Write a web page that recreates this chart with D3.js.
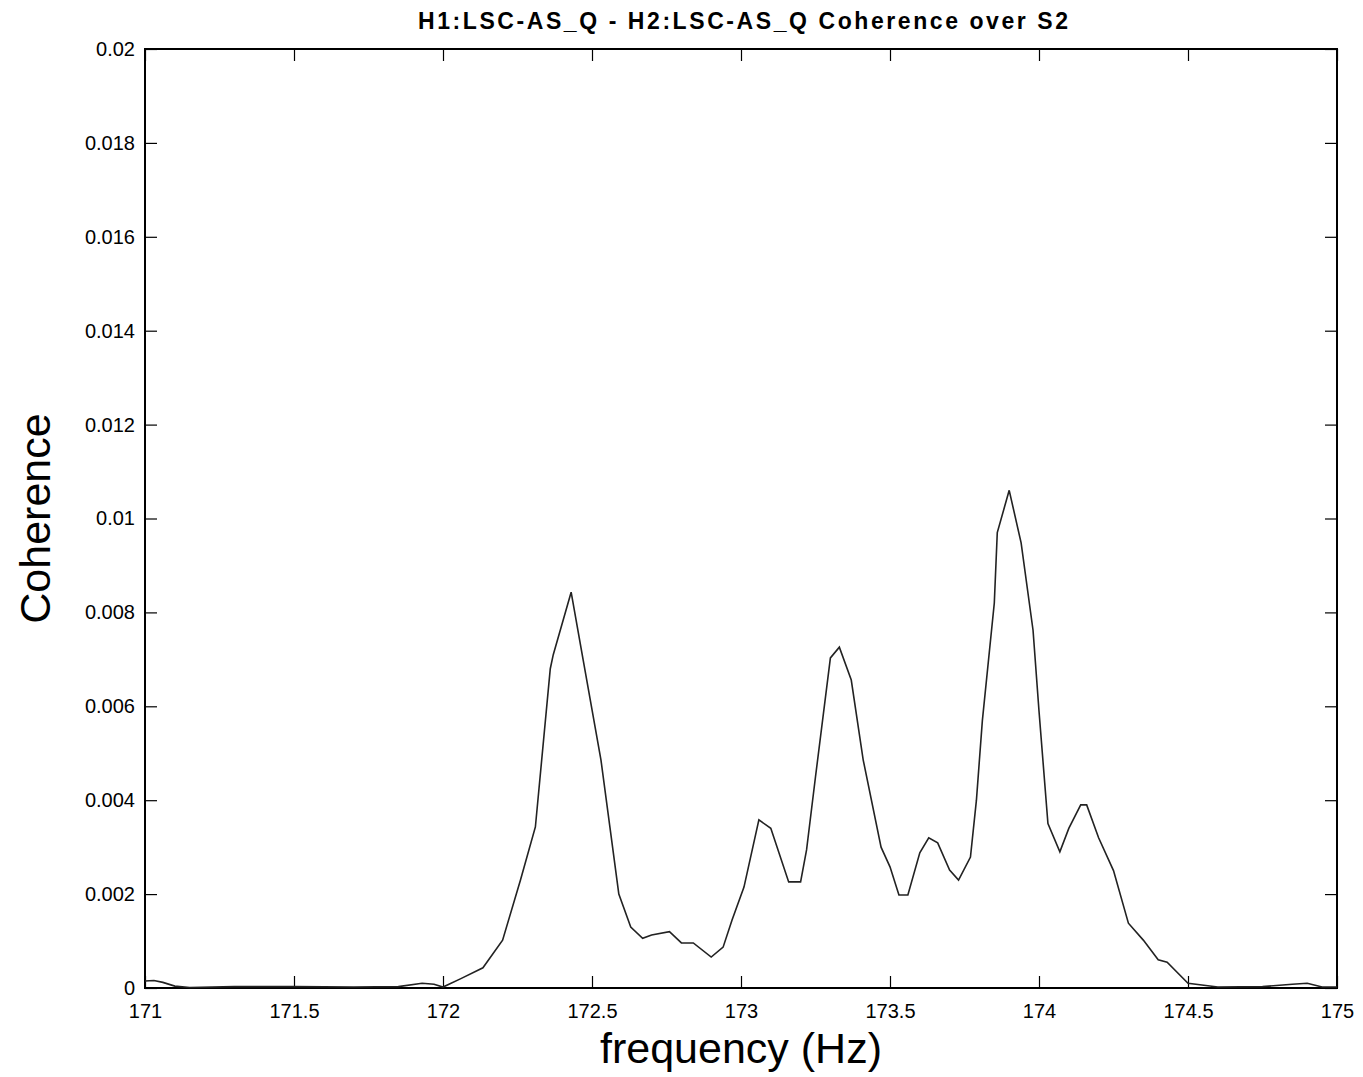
<!DOCTYPE html>
<html>
<head>
<meta charset="utf-8">
<script src="https://cdn.jsdelivr.net/npm/d3@7"></script>
<style>
  body { margin: 0; background: #fff; }
  text { font-family: "Liberation Sans", Arial, sans-serif; fill: #000; }
</style>
</head>
<body>
<script>
const width = 1363
const height = 1077
const margin = {top: 49, right: 26, bottom: 89, left: 145}

// coherence
const freq = [171.0, 171.03, 171.06, 171.1, 171.15, 171.3, 171.5, 171.7, 171.85, 171.93, 171.97, 172.0,
  172.06, 172.134, 172.2, 172.26, 172.31, 172.36, 172.37, 172.43, 172.47, 172.53, 172.56, 172.59, 172.63,
  172.67, 172.70, 172.76, 172.80, 172.84, 172.90, 172.94, 172.97, 173.01, 173.06, 173.10, 173.16, 173.20,
  173.22, 173.25, 173.30, 173.33, 173.37, 173.41, 173.47, 173.50, 173.53, 173.56, 173.60, 173.63, 173.66,
  173.70, 173.73, 173.77, 173.79, 173.81, 173.85, 173.86, 173.90, 173.94, 173.98, 174.00, 174.03, 174.07,
  174.10, 174.14, 174.16, 174.20, 174.25, 174.30, 174.35, 174.40, 174.43, 174.50, 174.6, 174.75, 174.85,
  174.9, 174.95, 175.0]
const coherence = [0.00015, 0.00016, 0.00012, 0.00004, 0.00001, 0.00003, 0.00003, 0.00002, 0.00003, 0.0001, 0.00008, 0.00002,
  0.0002, 0.00043, 0.00102, 0.0023, 0.00343, 0.0068, 0.0071, 0.00843, 0.0070, 0.00486, 0.00343, 0.0020, 0.0013,
  0.00106, 0.00113, 0.0012, 0.00096, 0.00096, 0.00066, 0.00087, 0.00145, 0.00215, 0.00358, 0.0034, 0.00226, 0.00226,
  0.00294, 0.0045, 0.00703, 0.00726, 0.00656, 0.00486, 0.0030, 0.00258, 0.00198, 0.00198, 0.00288, 0.0032, 0.00309,
  0.00251, 0.0023, 0.00279, 0.0040, 0.0057, 0.0082, 0.0097, 0.0106, 0.00948, 0.00762, 0.0059, 0.0035, 0.0029,
  0.0034, 0.0039, 0.0039, 0.0032, 0.0025, 0.00138, 0.00102, 0.0006, 0.00055, 0.0001, 0.00002, 0.00003, 0.00008,
  0.0001, 0.00002, 0.00002]

const xTicks = [171, 171.5, 172, 172.5, 173, 173.5, 174, 174.5, 175]
const yTicks = [0, 0.002, 0.004, 0.006, 0.008, 0.01, 0.012, 0.014, 0.016, 0.018, 0.02]

const titleText = 'H1:LSC-AS_Q - H2:LSC-AS_Q Coherence over S2'

const svg = d3.select('body').append('svg')
    .attr('width', width)
    .attr('height', height)

const x = d3.scaleLinear()
    .domain([171, 175])
    .range([margin.left, width - margin.right])

const y = d3.scaleLinear()
    .domain([0, 0.02])
    .range([height - margin.bottom, margin.top])

const tickLen = 12

// inward ticks on all four sides, matlab style
const bottomAxis = d3.axisBottom(x).tickValues(xTicks).tickSizeInner(-tickLen).tickSizeOuter(0)
    .tickPadding(16).tickFormat(d3.format('~g'))
const topAxis = d3.axisTop(x).tickValues(xTicks).tickSizeInner(-tickLen).tickSizeOuter(0).tickFormat('')
const leftAxis = d3.axisLeft(y).tickValues(yTicks).tickSizeInner(-tickLen).tickSizeOuter(0)
    .tickPadding(10).tickFormat(d3.format('~g'))
const rightAxis = d3.axisRight(y).tickValues(yTicks).tickSizeInner(-tickLen).tickSizeOuter(0).tickFormat('')

const styleAxis = g => {
    g.select('.domain').remove()
    g.selectAll('.tick line').attr('stroke', '#000').attr('stroke-width', 1.2)
    g.selectAll('.tick text').attr('font-size', 20).attr('font-family', '"Liberation Sans", Arial, sans-serif')
}

svg.append('g').attr('transform', `translate(0,${height - margin.bottom})`).call(bottomAxis).call(styleAxis)
svg.append('g').attr('transform', `translate(0,${margin.top})`).call(topAxis).call(styleAxis)
svg.append('g').attr('transform', `translate(${margin.left},0)`).call(leftAxis).call(styleAxis)
svg.append('g').attr('transform', `translate(${width - margin.right},0)`).call(rightAxis).call(styleAxis)

// the box
svg.append('rect')
    .attr('x', margin.left)
    .attr('y', margin.top)
    .attr('width', width - margin.left - margin.right)
    .attr('height', height - margin.top - margin.bottom)
    .attr('fill', 'none')
    .attr('stroke', '#000')
    .attr('stroke-width', 2)

const line = d3.line()
    .x((d, i) => x(freq[i]))
    .y(d => y(d))

svg.append('path')
    .datum(coherence)
    .attr('d', line)
    .attr('fill', 'none')
    .attr('stroke', '#222')
    .attr('stroke-width', 1.6)

svg.append('text')
    .attr('x', 418)
    .attr('y', 29)
    .attr('font-size', 23)
    .attr('font-weight', 'bold')
    .attr('textLength', 650)
    .attr('lengthAdjust', 'spacing')
    .text(titleText)

svg.append('text')
    .attr('x', (margin.left + width - margin.right) / 2)
    .attr('y', 1063)
    .attr('text-anchor', 'middle')
    .attr('font-size', 43)
    .text('frequency (Hz)')

svg.append('text')
    .attr('transform', `translate(50,${(margin.top + height - margin.bottom) / 2}) rotate(-90)`)
    .attr('text-anchor', 'middle')
    .attr('font-size', 43)
    .text('Coherence')
</script>
</body>
</html>
